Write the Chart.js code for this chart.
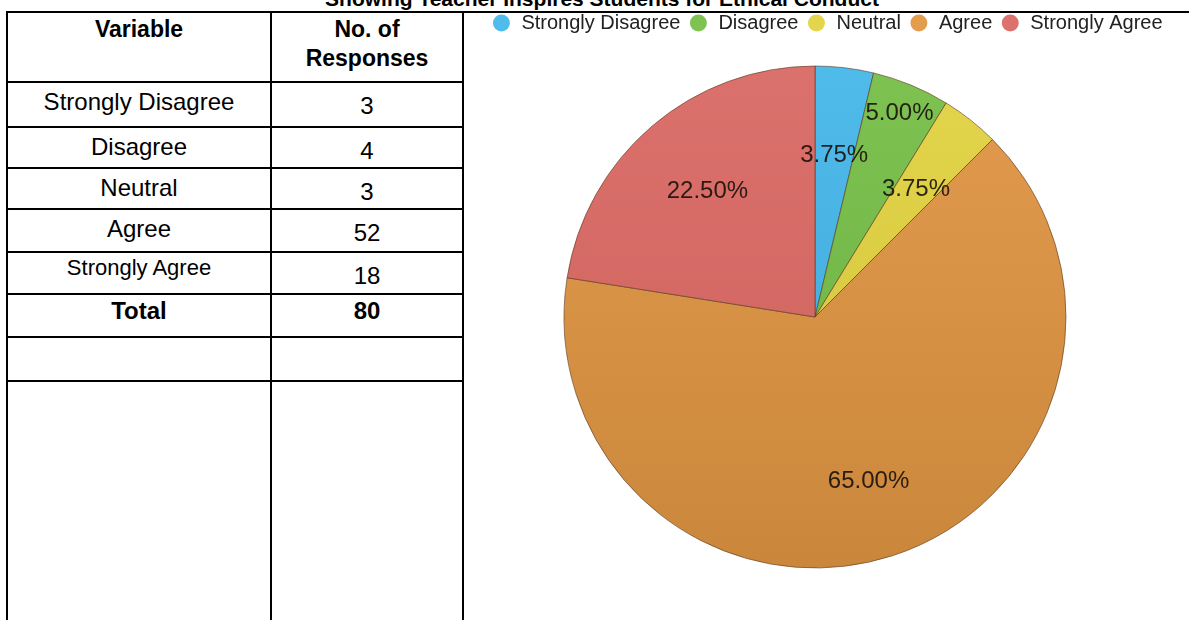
<!DOCTYPE html>
<html>
<head>
<meta charset="utf-8">
<script src="https://cdn.jsdelivr.net/npm/chart.js@4/dist/chart.umd.min.js"></script>
<style>
  html, body { margin: 0; padding: 0; background: #fff; }
  body { width: 1189px; height: 620px; position: relative; overflow: hidden;
         font-family: "Liberation Sans", Arial, sans-serif; color: #000; }
  .line { position: absolute; background: #000; }
  .txt { position: absolute; white-space: nowrap; line-height: 1; transform: translateX(-50%); }
  .bold { font-weight: bold; }
  #title { position: absolute; left: 602px; top: -12px; font-size: 21px; font-weight: bold;
           line-height: 1; white-space: nowrap; transform: translateX(-50%); }
  #chartBox { position: absolute; left: 445px; top: 5px; width: 740px; height: 586px; }
</style>
</head>
<body>
<div id="title">Showing Teacher Inspires Students for Ethical Conduct</div>
<div id="table"></div>
<div id="chartBox"><canvas id="pie"></canvas></div>
<script>
// Survey responses
const categories = ['Strongly Disagree', 'Disagree', 'Neutral', 'Agree', 'Strongly Agree'];
const responses = [3, 4, 3, 52, 18];
const totalResponses = responses.reduce((a, b) => a + b, 0);

// Slice colours: lighter top tone and darker bottom tone
const palette = ['#50bcec', '#7ec352', '#e4d64c', '#e49c4f', '#dc726d'];
const paletteDark = ['#3ea6d6', '#6aae40', '#cfc03a', '#c9863a', '#cc5f5b'];

// ---- Table on the left ----
const table = document.getElementById('table');
function line(x, y, w, h) {
  const d = document.createElement('div');
  d.className = 'line';
  Object.assign(d.style, { left: x + 'px', top: y + 'px', width: w + 'px', height: h + 'px' });
  table.appendChild(d);
}
function text(str, cx, top, size, bold) {
  const d = document.createElement('div');
  d.className = 'txt' + (bold ? ' bold' : '');
  d.textContent = str;
  Object.assign(d.style, { left: cx + 'px', top: top + 'px', fontSize: size + 'px' });
  table.appendChild(d);
}
const colX = [7, 271, 463];
const rowY = [12, 82, 127, 168, 209, 252, 294, 337, 381];
line(6, 11, 1189 - 6, 2);
colX.forEach(x => line(x - 1, 11, 2, 620));
rowY.slice(1).forEach(y => line(6, y - 1, 464 - 6, 2));

const c1 = (colX[0] + colX[1]) / 2, c2 = (colX[1] + colX[2]) / 2;
text('Variable', c1, 18, 23, true);
text('No. of', c2, 18, 23, true);
text('Responses', c2, 47, 23, true);
const rowFont = [24, 24, 24, 24, 22];
categories.forEach((cat, i) => {
  const top = rowY[i + 1];
  const fs = rowFont[i];
  text(cat, c1, top + 11 - Math.round(0.13 * fs) - (fs < 24 ? 3 : 0), fs, false);
  text(String(responses[i]), c2, top + 12, 24, false);
});
text('Total', c1, rowY[6] + 5, 24, true);
text(String(totalResponses), c2, rowY[6] + 5, 24, true);

// ---- Pie chart ----
const pctLabels = responses.map(v => (v / totalResponses * 100).toFixed(2) + '%');

function sliceFill(ctx) {
  const i = ctx.dataIndex;
  const area = ctx.chart.chartArea;
  if (!area) return palette[i];
  const g = ctx.chart.ctx.createLinearGradient(0, area.top, 0, area.bottom);
  g.addColorStop(0, palette[i]);
  g.addColorStop(1, paletteDark[i]);
  return g;
}

// Percentage text inside each slice
const sliceLabels = {
  id: 'sliceLabels',
  afterDatasetsDraw(chart, args, opts) {
    const ctx = chart.ctx;
    const meta = chart.getDatasetMeta(0);
    ctx.save();
    ctx.font = opts.size + 'px "Liberation Sans", Arial, sans-serif';
    ctx.fillStyle = opts.color;
    ctx.textAlign = 'center';
    ctx.textBaseline = 'middle';
    meta.data.forEach((arc, i) => {
      const p = arc.getProps(['x', 'y', 'startAngle', 'endAngle', 'outerRadius'], true);
      const mid = (p.startAngle + p.endAngle) / 2;
      const r = p.outerRadius * opts.radial[i];
      ctx.fillText(pctLabels[i], p.x + Math.cos(mid) * r, p.y + Math.sin(mid) * r);
    });
    ctx.restore();
  }
};

// Nudge the legend row sideways relative to the pie
const legendShift = {
  id: 'legendShift',
  afterLayout(chart, args, opts) {
    const lg = chart.legend;
    if (!lg) return;
    lg.left += opts.dx;
    lg.right += opts.dx;
  }
};

new Chart(document.getElementById('pie'), {
  type: 'pie',
  data: {
    labels: categories,
    datasets: [{
      data: responses,
      backgroundColor: sliceFill,
      borderColor: 'rgba(90,55,30,0.6)',
      borderWidth: 1,
      radius: 251
    }]
  },
  plugins: [sliceLabels, legendShift],
  options: {
    responsive: true,
    maintainAspectRatio: false,
    animation: false,
    layout: { padding: 0 },
    plugins: {
      tooltip: { enabled: false },
      legend: {
        position: 'top',
        labels: {
          usePointStyle: true,
          pointStyle: 'circle',
          boxWidth: 20,
          boxHeight: 12,
          padding: 8,
          color: '#222',
          font: { family: '"Liberation Sans", Arial, sans-serif', size: 20 },
          generateLabels(chart) {
            const items = Chart.overrides.pie.plugins.legend.labels.generateLabels(chart);
            items.forEach((it, i) => { it.fillStyle = palette[i]; it.strokeStyle = palette[i]; it.lineWidth = 0; });
            return items;
          }
        }
      },
      legendShift: { dx: 12 },
      sliceLabels: { size: 24, color: 'rgba(25,15,10,0.9)', radial: [0.65, 0.88, 0.65, 0.69, 0.66] }
    }
  }
});
</script>
</body>
</html>
